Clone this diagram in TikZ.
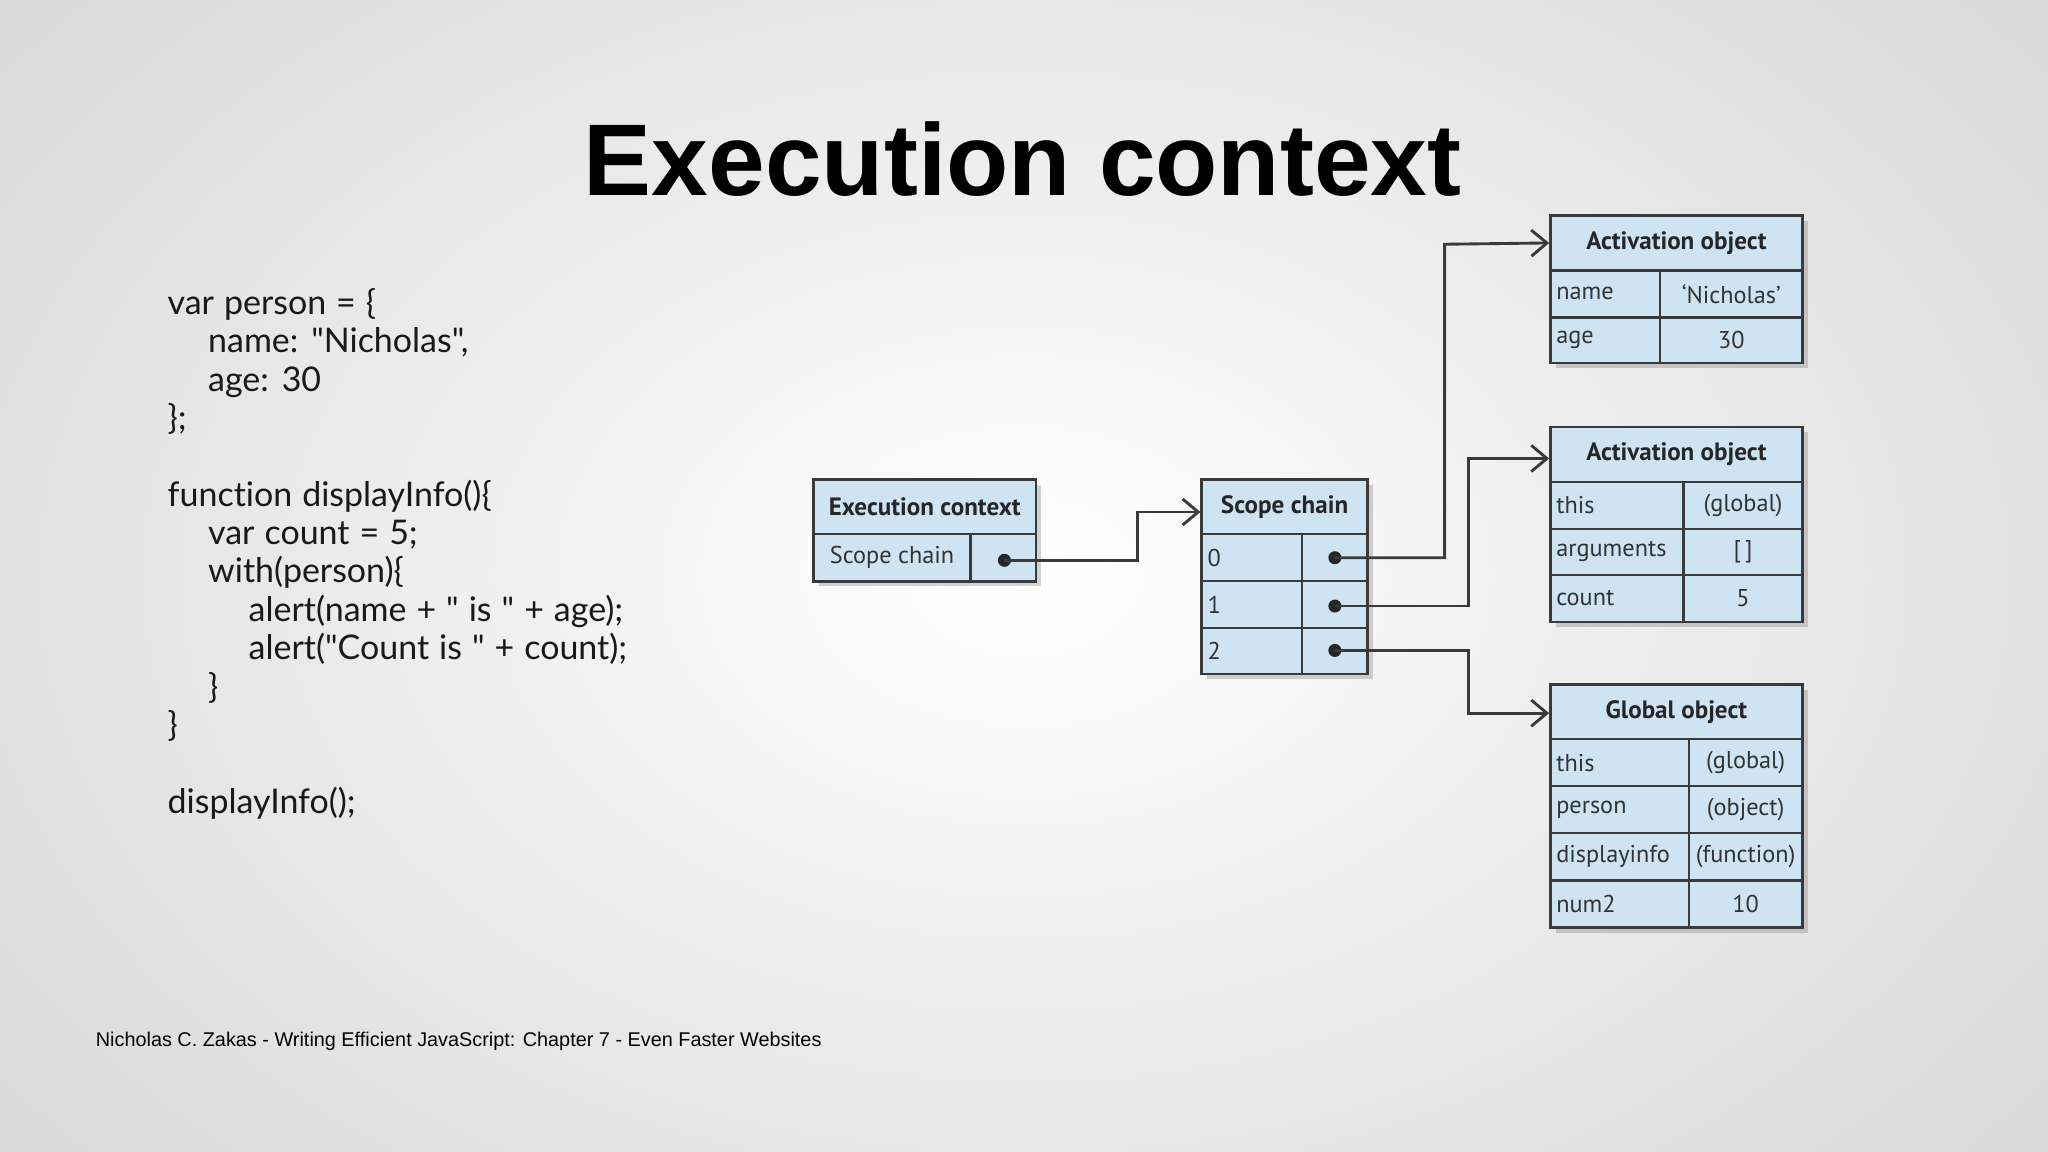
\documentclass[tikz,border=0pt]{standalone}
\usepackage{fontspec}
\setmainfont{Liberation Sans}
\newfontfamily\codef[Ligatures=NoCommon,WordSpace=1.15]{Lato}
\newfontfamily\boxf{PT Sans}
\usetikzlibrary{shadows,arrows.meta}
\definecolor{boxfill}{HTML}{CFE4F2}
\definecolor{bc}{HTML}{3A3A3A}
\definecolor{edge}{HTML}{D6D6D6}
\tikzset{
  cell/.style={draw=bc,line width=0.9pt,fill=boxfill,inner sep=0pt,font=\boxf\fontsize{9.3}{10}\selectfont,text=black!80},
  frame/.style={draw=bc,line width=1pt,fill=boxfill,inner sep=0pt,drop shadow={shadow xshift=2pt,shadow yshift=-2pt,opacity=0.35}},
  hdr/.style={font=\boxf\bfseries\fontsize{9.6}{10}\selectfont,text=black!85},
  lt/.style={anchor=west,inner sep=2.5pt,font=\boxf\fontsize{9.3}{10}\selectfont,text=black!80},
  conn/.style={draw=bc,line width=1.1pt},
  arr/.style={conn,-{Straight Barb[length=6pt,width=10pt,line width=1.1pt]}},
  dot/.style={circle,fill=black!85,inner sep=0pt,minimum size=5pt},
  code/.style={anchor=base west,inner sep=0pt,font=\codef\fontsize{13}{15}\selectfont,text=black!90}
}
\newcommand\mkcell[6]{\node[cell,minimum width={(#4-#2)*0.5pt},minimum height={(#5-#3)*0.5pt}] (#1) at ({(#2+#4)/2},{(#3+#5)/2}) {#6};}
\newcommand\mkframe[5]{\node[frame,minimum width={(#4-#2)*0.5pt},minimum height={(#5-#3)*0.5pt}] (#1) at ({(#2+#4)/2},{(#3+#5)/2}) {};}
\begin{document}
\begin{tikzpicture}[x=0.5pt,y=-0.5pt]
\useasboundingbox (0,0) rectangle (1568,882);
\shade[inner color=white,outer color=edge] (-300,-300) rectangle (1868,1182);
% title
\node[font=\bfseries\fontsize{39}{44}\selectfont] (title) at (783,122) {Execution context};
% code
\node[code] (c1) at (128,241) {var person = \{};
\node[code] (c2) at (159,270) {name: "Nicholas",};
\node[code] (c3) at (159,300) {age: 30};
\node[code] (c4) at (128,329) {\};};
\node[code] (c6) at (128,388) {function displayInfo()\{};
\node[code] (c7) at (159,417) {var count = 5;};
\node[code] (c8) at (159,446) {with(person)\{};
\node[code] (c9) at (190,476) {alert(name + " is " + age);};
\node[code] (c10) at (190,505) {alert("Count is " + count);};
\node[code] (c11) at (159,535) {\}};
\node[code] (c12) at (128,564) {\}};
\node[code] (c14) at (128,623) {displayInfo();};
% footer
\node[anchor=west,inner sep=0pt,font=\fontsize{7.6}{9}\selectfont] (foot) at (73,797) {Nicholas C. Zakas - Writing Efficient JavaScript: Chapter 7 - Even Faster Websites};
% Execution context box
\mkframe{ecf}{623}{367}{793}{445}
\mkcell{ech}{623}{367}{793}{409}{}
\node[hdr] at (ech) {Execution context};
\mkcell{eca}{623}{409}{743}{445}{Scope chain}
\mkcell{ecb}{743}{409}{793}{445}{}
\node[dot] (ecd) at (769,429) {};
% Scope chain box
\mkframe{scf}{920}{367}{1047}{516}
\mkcell{sch}{920}{367}{1047}{409}{}
\node[hdr] at (sch) {Scope chain};
\mkcell{s0a}{920}{409}{997}{445}{}\node[lt] at (s0a.west) {0};
\mkcell{s0b}{997}{409}{1047}{445}{}
\mkcell{s1a}{920}{445}{997}{481}{}\node[lt] at (s1a.west) {1};
\mkcell{s1b}{997}{445}{1047}{481}{}
\mkcell{s2a}{920}{481}{997}{516}{}\node[lt] at (s2a.west) {2};
\mkcell{s2b}{997}{481}{1047}{516}{}
\node[dot] (d0) at (1022,427) {};
\node[dot] (d1) at (1022,464) {};
\node[dot] (d2) at (1022,498) {};
% Activation object 1
\mkframe{a1f}{1187}{165}{1380}{278}
\mkcell{a1h}{1187}{165}{1380}{207}{}
\node[hdr] at (a1h) {Activation object};
\mkcell{a1r1a}{1187}{207}{1271}{243}{}\node[lt] at (a1r1a.west) {name};
\mkcell{a1r1b}{1271}{207}{1380}{243}{‘Nicholas’}
\mkcell{a1r2a}{1187}{243}{1271}{278}{}\node[lt] at (a1r2a.west) {age};
\mkcell{a1r2b}{1271}{243}{1380}{278}{30}
% Activation object 2
\mkframe{a2f}{1187}{327}{1380}{476}
\mkcell{a2h}{1187}{327}{1380}{369}{}
\node[hdr] at (a2h) {Activation object};
\mkcell{a2r1a}{1187}{369}{1289}{405}{}\node[lt] at (a2r1a.west) {this};
\mkcell{a2r1b}{1289}{369}{1380}{405}{(global)}
\mkcell{a2r2a}{1187}{405}{1289}{440}{}\node[lt] at (a2r2a.west) {arguments};
\mkcell{a2r2b}{1289}{405}{1380}{440}{[\,]}
\mkcell{a2r3a}{1187}{440}{1289}{476}{}\node[lt] at (a2r3a.west) {count};
\mkcell{a2r3b}{1289}{440}{1380}{476}{5}
% Global object
\mkframe{gf}{1187}{524}{1380}{710}
\mkcell{gh}{1187}{524}{1380}{566}{}
\node[hdr] at (gh) {Global object};
\mkcell{g1a}{1187}{566}{1293}{602}{}\node[lt] at (g1a.west) {this};
\mkcell{g1b}{1293}{566}{1380}{602}{(global)}
\mkcell{g2a}{1187}{602}{1293}{638}{}\node[lt] at (g2a.west) {person};
\mkcell{g2b}{1293}{602}{1380}{638}{(object)}
\mkcell{g3a}{1187}{638}{1293}{674}{}\node[lt] at (g3a.west) {displayinfo};
\mkcell{g3b}{1293}{638}{1380}{674}{(function)}
\mkcell{g4a}{1187}{674}{1293}{710}{}\node[lt] at (g4a.west) {num2};
\mkcell{g4b}{1293}{674}{1380}{710}{10}
% connectors
\draw[arr] (ecd.center) -- (871,429) -- (871,392) -- (sch.west|-0,392);
\draw[arr] (d0.center) -- (1106,427) -- (1106,187) -- (a1h.west);
\draw[arr] (d1.center) -- (1124,464) -- (1124,351) -- (a2h.west|-0,351);
\draw[arr] (d2.center) -- (1124,498) -- (1124,546) -- (gh.west|-0,546);
\end{tikzpicture}
\end{document}
